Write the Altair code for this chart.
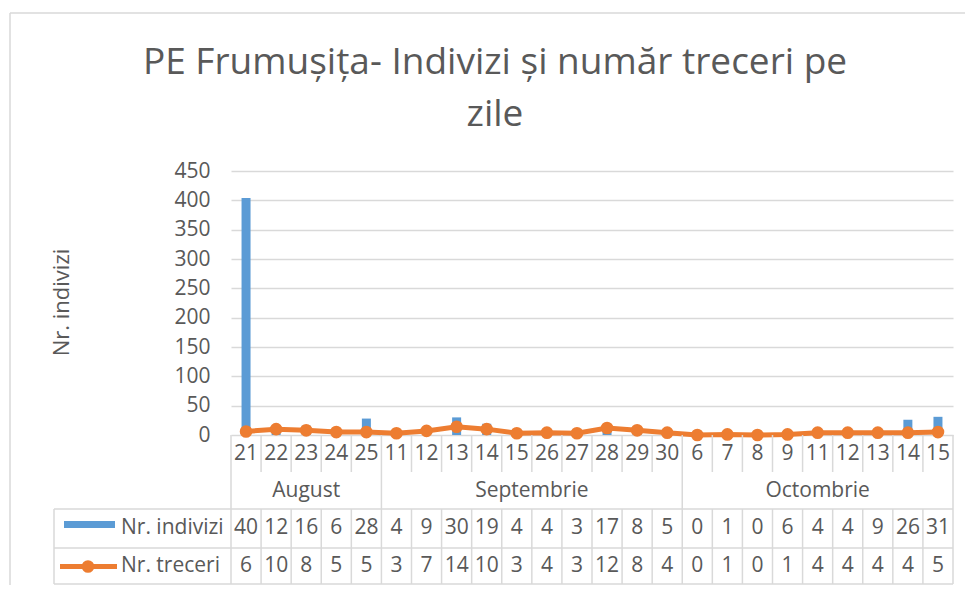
import altair as alt
import pandas as pd

# ---- data ----
months = ["August", "Septembrie", "Octombrie"]
days_august = [21, 22, 23, 24, 25]
days_septembrie = [11, 12, 13, 14, 15, 26, 27, 28, 29, 30]
days_octombrie = [6, 7, 8, 9, 11, 12, 13, 14, 15]
nr_indivizi = [404, 12, 16, 6, 28, 4, 9, 30, 19, 4, 4, 3, 17, 8, 5,
               0, 1, 0, 6, 4, 4, 9, 26, 31]
nr_treceri = [6, 10, 8, 5, 5, 3, 7, 14, 10, 3, 4, 3, 12, 8, 4,
              0, 1, 0, 1, 4, 4, 4, 4, 5]
y_ticks = [0, 50, 100, 150, 200, 250, 300, 350, 400, 450]
title_lines = ["PE Frumușița- Indivizi și număr treceri pe", "zile"]
series_names = ["Nr. indivizi", "Nr. treceri"]
y_title = "Nr. indivizi"

# ---- styles ----
FONT = "Open Sans"
TXT = "#595959"
GRID = "#D9D9D9"
BLUE = "#5B9BD5"
ORANGE = "#ED7D31"
W, H = 722, 264
FS = 21
BOTTOM = 413

# ---- tables built from the arrays ----
rows, month_rows, edge_rows = [], [], []
i = 0
for m, days in zip(months, [days_august, days_septembrie, days_octombrie]):
    start = i
    for d in days:
        rows.append({"month": m, "day": str(d), "pos": i + 0.5,
                     "indivizi": nr_indivizi[i], "treceri": nr_treceri[i]})
        edge_rows.append({"edge": i, "full": i == start})
        i += 1
    month_rows.append({"month": m, "mid": (start + i) / 2})
edge_rows.append({"edge": i, "full": True})
n = i

df = pd.DataFrame(rows)
mdf = pd.DataFrame(month_rows)
edf = pd.DataFrame(edge_rows)
one = pd.DataFrame({"k": [0]})

xscale = alt.Scale(domain=[0, n], nice=False, zero=False, padding=0)
yscale = alt.Scale(domain=[y_ticks[0], y_ticks[-1]], nice=False)
yaxis = alt.Axis(values=y_ticks, title=y_title, grid=True, gridColor=GRID,
                 gridWidth=1.5, domain=False, ticks=False, labelPadding=21,
                 labelFont=FONT, labelFontSize=FS, labelColor=TXT,
                 titleFont=FONT, titleFontSize=22, titleColor=TXT,
                 titleFontWeight="normal", titleX=-170, titleY=131,
                 titleAngle=-90, titleAlign="center", titleBaseline="middle")

bars = alt.Chart(df).mark_bar(size=9, color=BLUE).encode(
    x=alt.X("pos:Q", scale=xscale, axis=None),
    y=alt.Y("indivizi:Q", scale=yscale, axis=yaxis),
)

line = alt.Chart(df).mark_line(
    color=ORANGE, strokeWidth=5,
    point=alt.OverlayMarkDef(filled=True, size=160, color=ORANGE, opacity=1),
).encode(
    x=alt.X("pos:Q", scale=xscale, axis=None),
    y=alt.Y("treceri:Q", scale=yscale, axis=yaxis),
)

rule_kw = dict(color=GRID, strokeWidth=1.5)
full_edges = alt.Chart(edf).transform_filter("datum.full").mark_rule(**rule_kw).encode(
    x=alt.X("edge:Q", scale=xscale, axis=None), y=alt.value(H), y2=alt.value(BOTTOM))
inner_top = alt.Chart(edf).transform_filter("!datum.full").mark_rule(**rule_kw).encode(
    x=alt.X("edge:Q", scale=xscale, axis=None), y=alt.value(H), y2=alt.value(301))
inner_tab = alt.Chart(edf).transform_filter("!datum.full").mark_rule(**rule_kw).encode(
    x=alt.X("edge:Q", scale=xscale, axis=None), y=alt.value(338), y2=alt.value(BOTTOM))

hlines = [alt.Chart(one).mark_rule(**rule_kw).encode(
    x=alt.value(-177), x2=alt.value(W), y=alt.value(yy)) for yy in (338, 377, BOTTOM)]
left_col = alt.Chart(one).mark_rule(**rule_kw).encode(
    x=alt.value(-177), y=alt.value(338), y2=alt.value(BOTTOM))
border_top = alt.Chart(one).mark_rule(**rule_kw).encode(
    x=alt.value(-221), x2=alt.value(760), y=alt.value(-158))
border_left = alt.Chart(one).mark_rule(**rule_kw).encode(
    x=alt.value(-221), y=alt.value(-158), y2=alt.value(430))

tkw = dict(font=FONT, fontSize=FS, color=TXT, baseline="middle", align="center")
day_txt = alt.Chart(df).mark_text(**tkw).encode(
    x=alt.X("pos:Q", scale=xscale, axis=None), y=alt.value(283), text="day:N")
month_txt = alt.Chart(mdf).mark_text(**tkw).encode(
    x=alt.X("mid:Q", scale=xscale, axis=None), y=alt.value(320), text="month:N")
ind_txt = alt.Chart(df).mark_text(limit=29, ellipsis="\u200b", **tkw).encode(
    x=alt.X("pos:Q", scale=xscale, axis=None), y=alt.value(357), text="indivizi:Q")
tre_txt = alt.Chart(df).mark_text(limit=29, ellipsis="\u200b", **tkw).encode(
    x=alt.X("pos:Q", scale=xscale, axis=None), y=alt.value(395), text="treceri:Q")

lkw = dict(font=FONT, fontSize=FS, color=TXT, baseline="middle", align="left")
lab_ind = alt.Chart(one).mark_text(text=series_names[0], **lkw).encode(
    x=alt.value(-110), y=alt.value(357))
lab_tre = alt.Chart(one).mark_text(text=series_names[1], **lkw).encode(
    x=alt.value(-110), y=alt.value(395))
sw_ind = alt.Chart(one).mark_rect(color=BLUE).encode(
    x=alt.value(-167), x2=alt.value(-116), y=alt.value(350), y2=alt.value(357))
sw_tre = alt.Chart(one).mark_rule(color=ORANGE, strokeWidth=5).encode(
    x=alt.value(-171), x2=alt.value(-114), y=alt.value(395.5))
sw_tre_pt = alt.Chart(one).mark_point(filled=True, size=160, color=ORANGE, opacity=1).encode(
    x=alt.value(-143), y=alt.value(395.5))

title = alt.Chart(one).mark_text(
    text=title_lines, font=FONT, fontSize=37, color=TXT, align="center",
    baseline="alphabetic", lineHeight=52).encode(x=alt.value(264), y=alt.value(-97))

chart = alt.layer(
    bars, line,
    border_top, border_left, title,
    full_edges, inner_top, inner_tab, *hlines, left_col,
    day_txt, month_txt, ind_txt, tre_txt,
    sw_ind, sw_tre, sw_tre_pt, lab_ind, lab_tre,
).properties(
    width=W, height=H, autosize="none", background="white",
    padding={"left": 223, "top": 163, "right": 12, "bottom": 150},
).configure_view(stroke=None)

chart.save("out.html", embed_options={"renderer": "svg", "actions": False})
